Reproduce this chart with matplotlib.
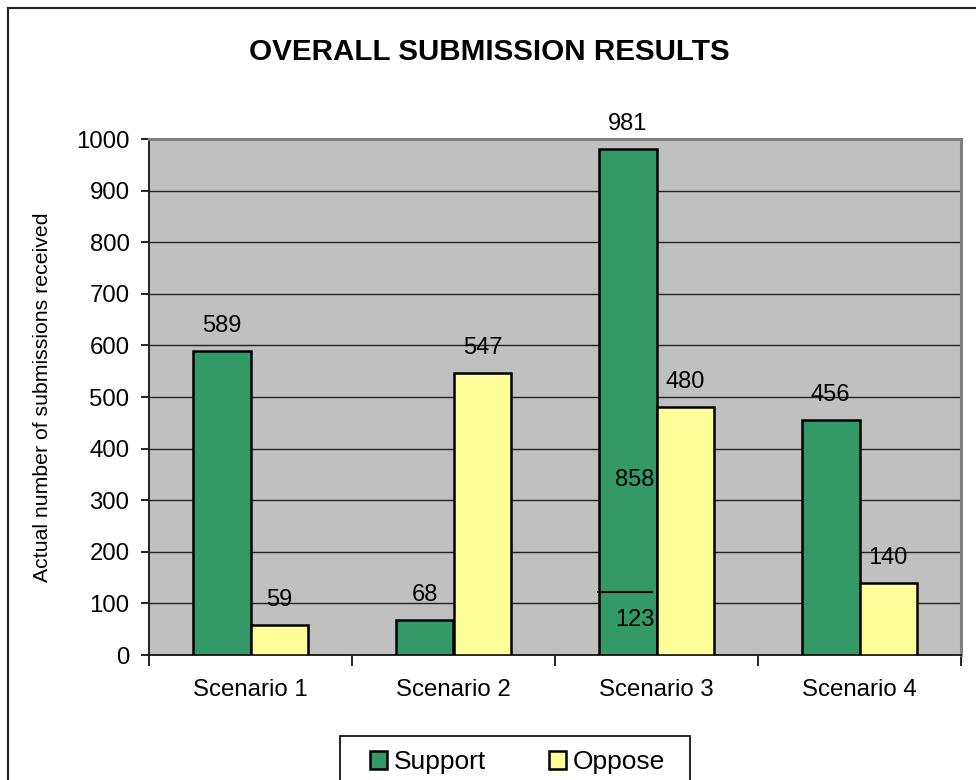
import matplotlib
matplotlib.use('Agg')
import matplotlib.pyplot as plt
from matplotlib.lines import Line2D
from matplotlib.patches import Rectangle
import numpy as np

plt.rcParams['font.family'] = ['Liberation Sans', 'DejaVu Sans']

# --- Data ---
scenarios = ['Scenario 1', 'Scenario 2', 'Scenario 3', 'Scenario 4']
support = [589, 68, 981, 456]
oppose = [59, 547, 480, 140]
# scenario 3 support is split into two parts
split_idx = 2
split_parts = [123, 858]

GREEN = '#339966'
YELLOW = '#FFFF99'

W, H = 976, 780
fig = plt.figure(figsize=(W / 100, H / 100), dpi=100)

# outer chart frame (cut off at the right and bottom)
fig.add_artist(Line2D([8 / W, 8 / W], [0, 1 - 8 / H], color='#222222', lw=1.5))
fig.add_artist(Line2D([8 / W, 1], [1 - 8 / H, 1 - 8 / H], color='#222222', lw=1.5))

ax = fig.add_axes([149 / W, 1 - 655 / H, 812 / W, 516 / H])
ax.set_facecolor('#C0C0C0')

x = np.arange(len(scenarios))
bw = 0.285
ax.bar(x - bw / 2, support, bw, color=GREEN, edgecolor='black', lw=1.8, zorder=3, label='Support')
ax.bar(x + bw / 2, oppose, bw, color=YELLOW, edgecolor='black', lw=1.8, zorder=3, label='Oppose')

# split line inside the scenario 3 support bar
xs = x[split_idx] - bw
ax.hlines(split_parts[0], xs - 0.01, xs + bw - 0.015, color='black', lw=1.5, zorder=4)

# value labels
for i in range(len(scenarios)):
    ax.annotate(str(support[i]), (x[i] - bw / 2, support[i]), xytext=(0, 10),
                textcoords='offset points', ha='center', va='bottom', fontsize=17)
    ax.annotate(str(oppose[i]), (x[i] + bw / 2, oppose[i]), xytext=(0, 10),
                textcoords='offset points', ha='center', va='bottom', fontsize=17)

# labels inside the split bar
ax.text(xs + bw - 0.01, 340, str(split_parts[1]), ha='right', va='center', fontsize=17, zorder=5)
ax.text(xs + bw - 0.01, 68, str(split_parts[0]), ha='right', va='center', fontsize=17, zorder=5)

ax.set_xlim(-0.5, 3.5)
ax.set_ylim(0, 1000)
ax.set_yticks(np.arange(0, 1001, 100))
ax.yaxis.grid(True, color='#222222', lw=1, zorder=0)
ax.set_axisbelow(True)

ax.set_xticks(x)
ax.set_xticklabels(scenarios)
ax.set_xticks(np.arange(-0.5, 3.6, 1), minor=True)
ax.tick_params(axis='x', which='major', length=0, pad=17, labelsize=17.3)
ax.tick_params(axis='x', which='minor', length=8, width=1.2, direction='out')
ax.tick_params(axis='y', length=6, width=1.2, pad=8, labelsize=17.3)

for side in ('top', 'right'):
    ax.spines[side].set_color('#808080')
    ax.spines[side].set_linewidth(2.2)
for side in ('left', 'bottom'):
    ax.spines[side].set_color('#222222')
    ax.spines[side].set_linewidth(1.4)

ax.set_ylabel('Actual number of submissions received', fontsize=15.3)
ax.yaxis.set_label_coords(-0.119, 0.5)

fig.text(0.501, 1 - 52 / H, 'OVERALL SUBMISSION RESULTS', ha='center', va='center',
         fontsize=21.3, fontweight='bold')

# legend: entries without frame, box drawn separately (cut off at the bottom)
leg = fig.legend(loc='upper left', bbox_to_anchor=(370 / W, 1 - 750 / H), ncol=2,
                 fontsize=19, frameon=False, borderaxespad=0, borderpad=0,
                 handlelength=0.65, handleheight=0.65,
                 handletextpad=0.25, columnspacing=2.4)
fig.add_artist(Rectangle((340 / W, -0.01), 350 / W, 1 - 736 / H + 0.01,
                         transform=fig.transFigure, fill=False, ec='black', lw=1.2))

fig.savefig('out.png', dpi=100)
